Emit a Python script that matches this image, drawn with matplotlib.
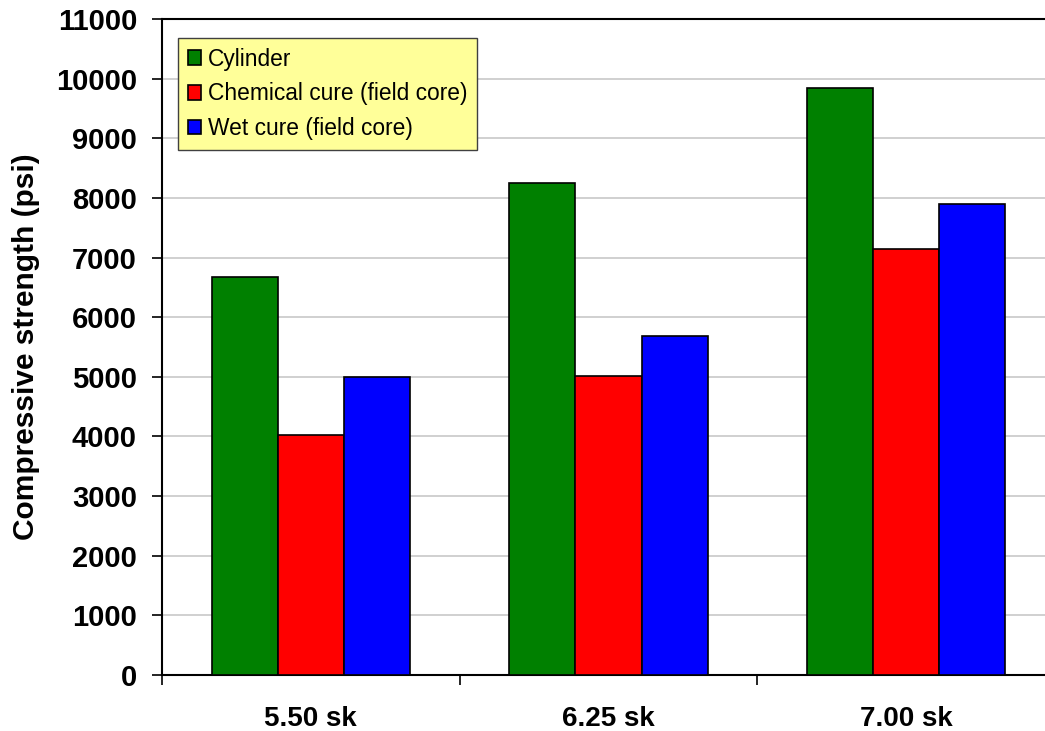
import matplotlib.pyplot as plt
import numpy as np

categories = ['5.50 sk', '6.25 sk', '7.00 sk']
series_names = ['Cylinder', 'Chemical cure (field core)', 'Wet cure (field core)']
cylinder = [6680, 8250, 9850]
chemical = [4030, 5020, 7140]
wet = [4990, 5690, 7890]
colors = ['#008000', '#FF0000', '#0000FF']

plt.rcParams['font.family'] = ['Liberation Sans', 'DejaVu Sans']

fig = plt.figure(figsize=(10.45, 7.31), dpi=100)
# plot area runs slightly past the right edge, like the source
ax = fig.add_axes([162/1045, (731-675)/731, 893/1045, (675-19)/731])

x = np.arange(len(categories))
bw = 1/4.5
for i, vals in enumerate([cylinder, chemical, wet]):
    ax.bar(x + (i-1)*bw, vals, width=bw, color=colors[i], edgecolor='black',
           linewidth=1.2, label=series_names[i], zorder=3)

ax.set_xlim(-0.5, 2.5)
ax.set_ylim(0, 11000)
ax.set_yticks(np.arange(0, 11001, 1000))
ax.yaxis.grid(True, color='#C8C8C8', linewidth=1.2, zorder=0)

ax.set_xticks(x)
ax.set_xticklabels(categories, fontsize=20, fontweight='bold')
ax.set_xticks([-0.5, 0.5, 1.5, 2.5], minor=True)
ax.tick_params(axis='x', which='major', length=0, pad=22)
ax.tick_params(axis='x', which='minor', length=7, width=1.2, direction='out')
ax.tick_params(axis='y', length=7, width=1.2, direction='out', labelsize=21, pad=11)
for lab in ax.get_yticklabels():
    lab.set_fontweight('bold')

for s in ['left', 'bottom', 'top']:
    ax.spines[s].set_linewidth(1.5)
ax.spines['right'].set_visible(False)

ax.set_ylabel('Compressive strength (psi)', fontsize=21.5, fontweight='bold')
ax.yaxis.set_label_coords(-(162-40)/893, 0.5)

leg = ax.legend(loc='upper left', bbox_to_anchor=(16/893, 1 - 19/656), borderaxespad=0,
                fontsize=16.4, frameon=True, fancybox=False, facecolor='#FFFF99',
                edgecolor='#404040', handlelength=0.6, handleheight=0.6,
                handletextpad=0.3, labelspacing=0.52, borderpad=0.42, framealpha=1)
leg.get_frame().set_linewidth(1.0)

fig.savefig('out.png', dpi=100)
